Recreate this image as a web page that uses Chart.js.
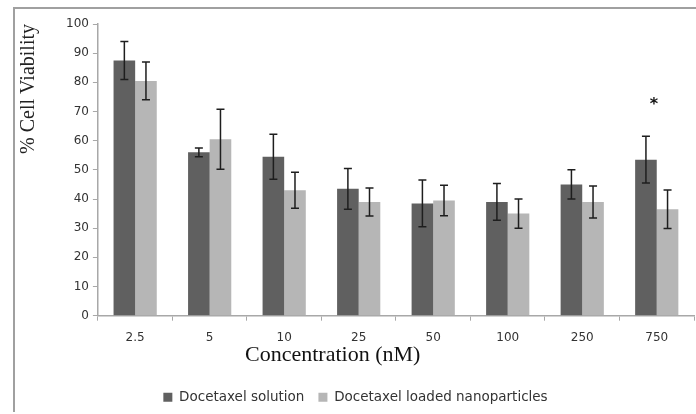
<!DOCTYPE html>
<html>
<head>
<meta charset="utf-8">
<script src="https://cdn.jsdelivr.net/npm/chart.js@4"></script>
<style>
  body { margin: 0; background: #fff; }
  #frame { position: absolute; left: 13px; top: 7px; width: 700px; height: 403px;
           border-left: 2px solid #a0a0a0; border-top: 2px solid #a0a0a0; }
  #myChart { position: absolute; left: 0; top: 0; }
</style>
</head>
<body>
<div id="frame"></div>
<canvas id="myChart" width="696" height="414"></canvas>
<script>
const concentrations = ["2.5", "5", "10", "25", "50", "100", "250", "750"];

const solution = [87.5, 56, 54.5, 43.5, 38.5, 39, 45, 53.5];
const solutionErr = [6.5, 1.5, 7.7, 7, 8, 6.3, 5, 8];

const nanoparticles = [80.5, 60.5, 43, 39, 39.5, 35, 39, 36.5];
const nanoparticlesErr = [6.5, 10.3, 6.2, 4.8, 5.2, 5, 5.5, 6.6];

// significance mark above the solution bar
const starLabels = ["", "", "", "", "", "", "", "*"];
const starValue = 73.5;

const yTicks = [0, 10, 20, 30, 40, 50, 60, 70, 80, 90, 100];

const ctx = document.getElementById("myChart");

const errorBars = {
  id: "errorBars",
  afterDatasetsDraw(chart) {
    const c = chart.ctx;
    const y = chart.scales.y;
    c.save();
    c.strokeStyle = "#1e1e1e";
    c.lineWidth = 1.5;
    chart.data.datasets.forEach((ds, i) => {
      const meta = chart.getDatasetMeta(i);
      meta.data.forEach((bar, j) => {
        const v = ds.data[j];
        const e = ds.errors[j];
        const top = y.getPixelForValue(v + e);
        const bottom = y.getPixelForValue(v - e);
        c.beginPath();
        c.moveTo(bar.x, top);
        c.lineTo(bar.x, bottom);
        c.moveTo(bar.x - 4, top);
        c.lineTo(bar.x + 4, top);
        c.moveTo(bar.x - 4, bottom);
        c.lineTo(bar.x + 4, bottom);
        c.stroke();
      });
    });
    // star
    const meta0 = chart.getDatasetMeta(0);
    c.fillStyle = "#111";
    c.font = "bold 16px 'DejaVu Sans'";
    c.textAlign = "center";
    c.textBaseline = "middle";
    starLabels.forEach((s, j) => {
      if (!s) return;
      const bar = meta0.data[j];
      c.fillText(s, bar.x + 8, y.getPixelForValue(starValue) + 4);
    });
    c.restore();
  },
};

new Chart(ctx, {
  type: "bar",
  data: {
    labels: concentrations,
    datasets: [
      {
        label: "Docetaxel solution",
        data: solution,
        errors: solutionErr,
        backgroundColor: "#606060",
      },
      {
        label: "Docetaxel loaded nanoparticles",
        data: nanoparticles,
        errors: nanoparticlesErr,
        backgroundColor: "#b6b6b6",
      },
    ],
  },
  options: {
    responsive: false,
    animation: false,
    layout: { padding: { top: 24, left: 17, right: 2, bottom: 0 } },
    datasets: {
      bar: { categoryPercentage: 0.58, barPercentage: 1 },
    },
    plugins: {
      tooltip: { enabled: false },
      legend: {
        position: "bottom",
        labels: {
          boxWidth: 9,
          boxHeight: 9,
          padding: 14,
          color: "#333",
          font: { family: "'DejaVu Sans'", size: 13.5 },
        },
      },
    },
    scales: {
      x: {
        grid: { drawOnChartArea: false, offset: true, tickLength: 5, color: "#a8a8a8" },
        border: { color: "#a8a8a8", width: 1.5 },
        ticks: { color: "#333", font: { family: "'DejaVu Sans'", size: 12 }, padding: 10 },
        title: {
          display: true,
          // trailing spaces push the centred title left, as in the original
          text: "Concentration (nM)" + " ".repeat(23),
          color: "#111",
          font: { family: "'Liberation Serif'", size: 22 },
          padding: { top: -13, bottom: 8 },
        },
      },
      y: {
        min: 0,
        max: 100,
        afterBuildTicks: (axis) => { axis.ticks = yTicks.map((v) => ({ value: v })); },
        grid: { drawOnChartArea: false, tickLength: 5, color: "#a8a8a8" },
        border: { color: "#a8a8a8", width: 1.5 },
        ticks: { color: "#333", font: { family: "'DejaVu Sans'", size: 12 }, padding: 4 },
        title: {
          display: true,
          text: "% Cell Viability",
          align: "end",
          color: "#222",
          font: { family: "'Liberation Serif'", size: 20 },
          padding: { top: 0, bottom: 21 },
        },
      },
    },
  },
  plugins: [errorBars],
});
</script>
</body>
</html>
